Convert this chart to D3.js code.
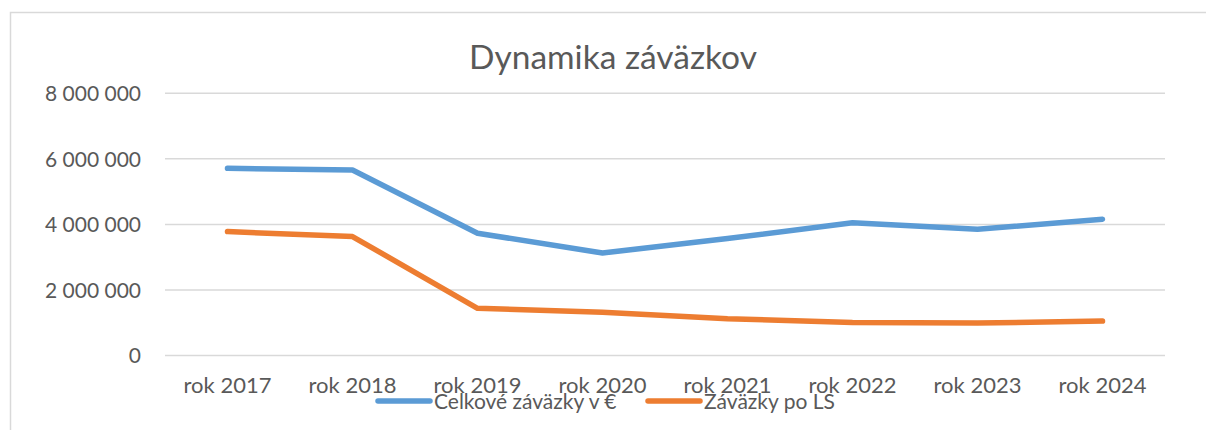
<!DOCTYPE html>
<html>
<head>
<meta charset="utf-8">
<script src="https://cdn.jsdelivr.net/npm/d3@7"></script>
<style>
  html, body { margin: 0; padding: 0; background: #fff; }
  svg { display: block; }
  text { font-family: Lato, "Open Sans", sans-serif; fill: #595959; }
</style>
</head>
<body>
<svg id="chart" width="1206" height="430"></svg>
<script>
// Yearly data
const categories = ["rok 2017", "rok 2018", "rok 2019", "rok 2020", "rok 2021", "rok 2022", "rok 2023", "rok 2024"];
const celkoveZavazky = [5710000, 5660000, 3730000, 3130000, 3570000, 4050000, 3850000, 4160000];
const zavazkyPoLS = [3780000, 3630000, 1440000, 1320000, 1120000, 1010000, 990000, 1050000];
const seriesNames = ["Celkové záväzky v €", "Záväzky po LS"];
const seriesColors = ["#5B9BD5", "#ED7D31"];
const yTicks = [0, 2000000, 4000000, 6000000, 8000000];
const chartTitle = "Dynamika záväzkov";

const svg = d3.select("#chart");
const W = 1206, H = 430;

// outer chart frame
svg.append("rect")
  .attr("x", 10.5).attr("y", 12.5)
  .attr("width", W + 10).attr("height", H + 10)
  .attr("fill", "none").attr("stroke", "#D9D9D9").attr("stroke-width", 1.5);

const plot = { left: 165, right: 1165, top: 93.3, bottom: 355.5 };

const x = d3.scaleBand().domain(categories).range([plot.left, plot.right]);
const y = d3.scaleLinear().domain([0, 8000000]).range([plot.bottom, plot.top]);

const fmt = v => d3.format(",")(v).replace(/,/g, " ");

// horizontal gridlines
svg.append("g")
  .selectAll("line")
  .data(yTicks)
  .join("line")
  .attr("x1", plot.left).attr("x2", plot.right)
  .attr("y1", d => y(d)).attr("y2", d => y(d))
  .attr("stroke", "#D9D9D9").attr("stroke-width", 1.5);

// y axis labels
const yAxis = d3.axisLeft(y).tickValues(yTicks).tickFormat(fmt).tickSize(0).tickPadding(0);
const gy = svg.append("g").attr("transform", `translate(${141},0)`).call(yAxis);
gy.select(".domain").remove();
gy.selectAll("text").attr("font-size", 21).attr("font-family", "Lato, sans-serif").attr("fill", "#595959").attr("dy", "0.35em");

// x axis labels
const xAxis = d3.axisBottom(x).tickSize(0).tickPadding(0);
const gx = svg.append("g").attr("transform", `translate(0,${377})`).call(xAxis);
gx.select(".domain").remove();
gx.selectAll("text").attr("font-size", 22).attr("font-family", "Lato, sans-serif").attr("fill", "#595959").attr("dy", "0.71em");

// series lines
const series = [celkoveZavazky, zavazkyPoLS];
const line = d3.line()
  .x((d, i) => x(categories[i]) + x.bandwidth() / 2)
  .y(d => y(d));

svg.append("g")
  .selectAll("path")
  .data(series)
  .join("path")
  .attr("d", d => line(d))
  .attr("fill", "none")
  .attr("stroke", (d, i) => seriesColors[i])
  .attr("stroke-width", 5.5)
  .attr("stroke-linejoin", "round")
  .attr("stroke-linecap", "round");

// title
svg.append("text")
  .attr("x", 613).attr("y", 69)
  .attr("text-anchor", "middle")
  .attr("font-size", 33.5)
  .text(chartTitle);

// legend
const legendItems = [
  { x: 378, name: seriesNames[0], color: seriesColors[0] },
  { x: 648, name: seriesNames[1], color: seriesColors[1] }
];
const lg = svg.append("g").selectAll("g").data(legendItems).join("g")
  .attr("transform", d => `translate(${d.x},${401})`);
lg.append("line")
  .attr("x1", 0).attr("x2", 52).attr("y1", 0).attr("y2", 0)
  .attr("stroke", d => d.color).attr("stroke-width", 5.5).attr("stroke-linecap", "round");
lg.append("text")
  .attr("x", 56).attr("y", 0).attr("dy", "0.38em")
  .attr("font-size", 21)
  .text(d => d.name);
</script>
</body>
</html>
